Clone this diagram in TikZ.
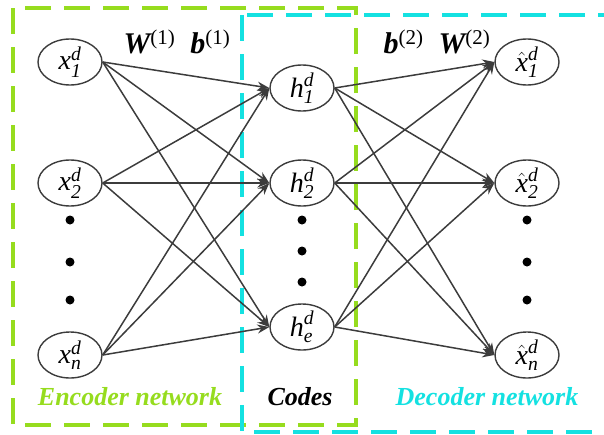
\documentclass[tikz,border=0pt]{standalone}
\usepackage{amsmath}
\usepackage{fontspec}
\setmainfont{Liberation Serif}
\usetikzlibrary{shapes.geometric,arrows.meta}
\definecolor{encgreen}{RGB}{150,220,30}
\definecolor{deccyan}{RGB}{20,225,225}
\definecolor{edgegray}{RGB}{60,60,60}
% italic variable with subscript and superscript, set in the text font
\newcommand{\nvar}[3]{$\text{\itshape #1}_{\text{\itshape #2}}^{\text{\itshape #3}}$}
\newcommand{\nhat}[3]{$\hat{\text{\itshape #1}}_{\text{\itshape #2}}^{\text{\itshape #3}}$}
\newcommand{\wlab}[2]{{\bfseries\itshape #1}\textsuperscript{(#2)}}
\tikzset{
  unit/.style={ellipse, draw=edgegray, line width=1.4pt, minimum width=64pt,
    minimum height=46pt, inner sep=0pt, font=\fontsize{28}{30}\selectfont},
  link/.style={draw=edgegray, line width=1.5pt, -{Stealth[length=12pt,width=9pt]}},
  regionbox/.style={line width=3.2pt, dash pattern=on 26pt off 13pt},
  dotmark/.style={circle, fill=black, inner sep=0pt, minimum size=9pt},
  netlabel/.style={font=\fontsize{26}{28}\selectfont\bfseries\itshape},
  weightlabel/.style={font=\fontsize{30}{32}\selectfont}
}
\begin{document}
\begin{tikzpicture}[x=1pt,y=-1pt]
\useasboundingbox (0,0) rectangle (604,434);
\clip (0,0) rectangle (604,434);

% dashed region frames
\draw[regionbox, encgreen] (13,8) rectangle (356,425);
\draw[regionbox, deccyan] (242,15) rectangle (640,432);

% input layer
\node[unit] (x1) at (70,62) {\nvar{x}{1}{d}};
\node[unit] (x2) at (70,183) {\nvar{x}{2}{d}};
\node[unit] (xn) at (70,355) {\nvar{x}{n}{d}};

% code layer
\node[unit] (h1) at (302,88) {\nvar{h}{1}{d}};
\node[unit] (h2) at (302,183) {\nvar{h}{2}{d}};
\node[unit] (he) at (302,327) {\nvar{h}{e}{d}};

% output layer
\node[unit] (y1) at (527,62) {\nhat{x}{1}{d}};
\node[unit] (y2) at (527,183) {\nhat{x}{2}{d}};
\node[unit] (yn) at (527,355) {\nhat{x}{n}{d}};

% ellipsis dots
\node[dotmark] (dl1) at (70,220) {};
\node[dotmark] (dl2) at (70,262) {};
\node[dotmark] (dl3) at (70,300) {};
\node[dotmark] (dm1) at (302,220) {};
\node[dotmark] (dm2) at (302,251) {};
\node[dotmark] (dm3) at (302,282) {};
\node[dotmark] (dr1) at (527,220) {};
\node[dotmark] (dr2) at (527,262) {};
\node[dotmark] (dr3) at (527,300) {};

% fully connected links
\foreach \s in {x1,x2,xn}
  \foreach \t in {h1,h2,he}
    \draw[link] (\s.east) -- (\t.west);
\foreach \s in {h1,h2,he}
  \foreach \t in {y1,y2,yn}
    \draw[link] (\s.east) -- (\t.west);

% weight labels
\node[weightlabel] (w1) at (177,42) {\wlab{W}{1}\ \ \wlab{b}{1}};
\node[weightlabel] (w2) at (437,42) {\wlab{b}{2}\ \ \wlab{W}{2}};

% region labels
\node[netlabel, text=encgreen] (enc) at (130,397) {Encoder network};
\node[netlabel, text=black] (cod) at (300,397) {Codes};
\node[netlabel, text=deccyan] (dec) at (487,397) {Decoder network};
\end{tikzpicture}
\end{document}
